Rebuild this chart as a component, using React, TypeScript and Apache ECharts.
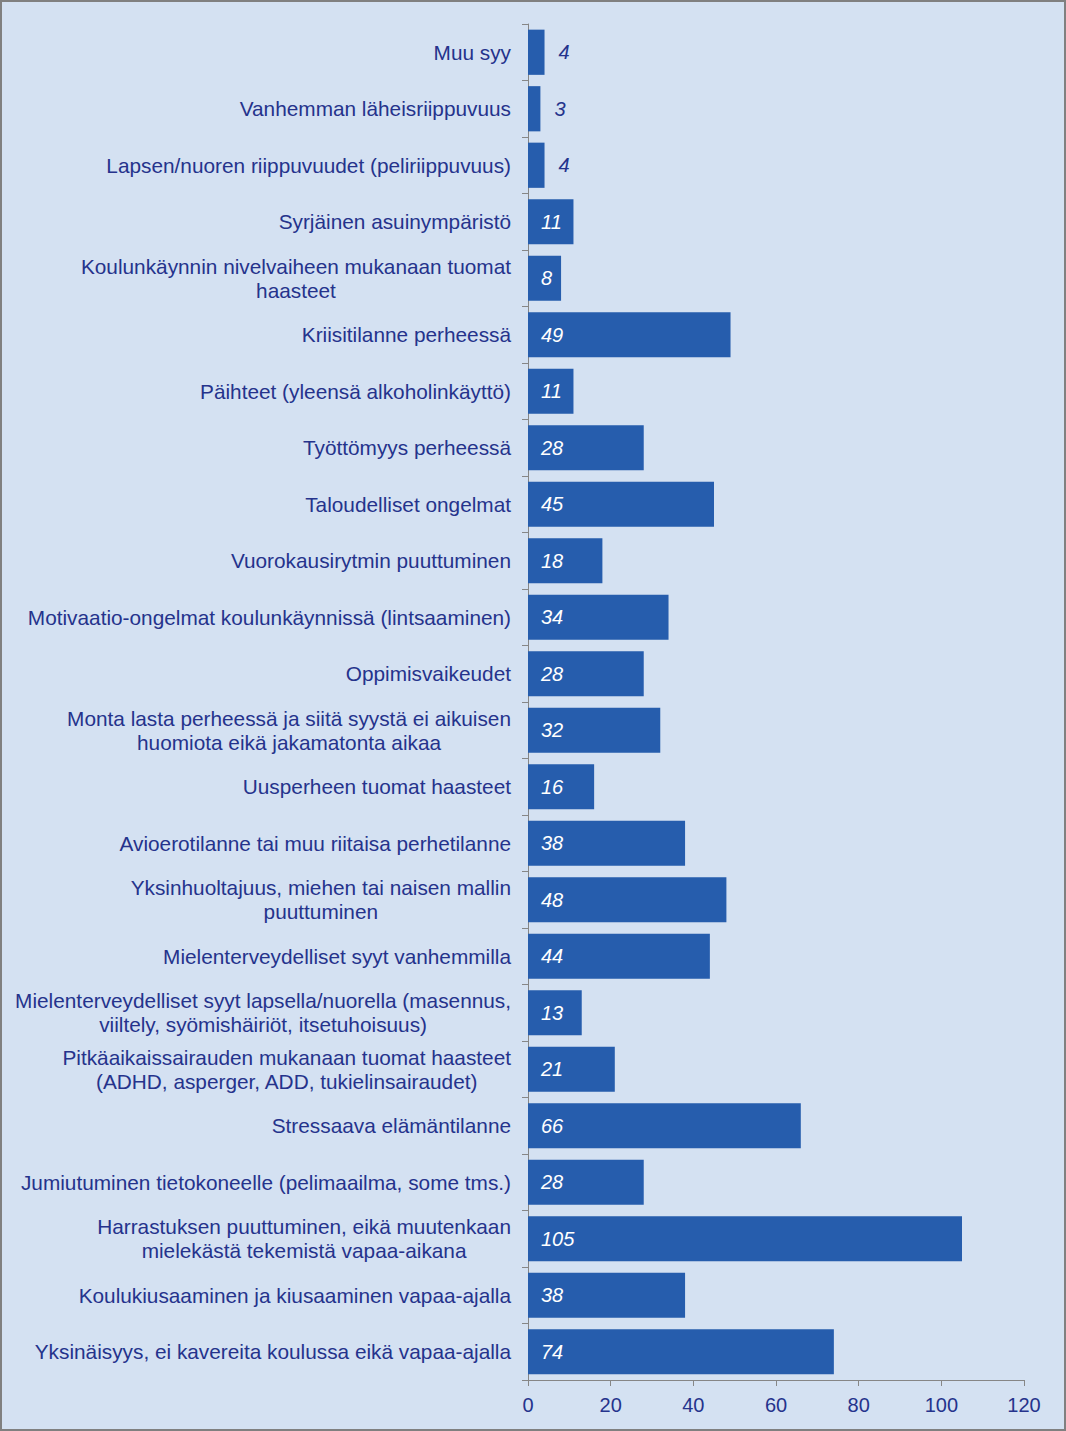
import React, { useEffect, useRef } from "react";
import * as echarts from "echarts";

const categories: string[] = [
  "Muu syy",
  "Vanhemman läheisriippuvuus",
  "Lapsen/nuoren riippuvuudet (peliriippuvuus)",
  "Syrjäinen asuinympäristö",
  "Koulunkäynnin nivelvaiheen mukanaan tuomat\nhaasteet",
  "Kriisitilanne perheessä",
  "Päihteet (yleensä alkoholinkäyttö)",
  "Työttömyys perheessä",
  "Taloudelliset ongelmat",
  "Vuorokausirytmin puuttuminen",
  "Motivaatio-ongelmat koulunkäynnissä (lintsaaminen)",
  "Oppimisvaikeudet",
  "Monta lasta perheessä ja siitä syystä ei aikuisen\nhuomiota eikä jakamatonta aikaa",
  "Uusperheen tuomat haasteet",
  "Avioerotilanne tai muu riitaisa perhetilanne",
  "Yksinhuoltajuus, miehen tai naisen mallin\npuuttuminen",
  "Mielenterveydelliset syyt vanhemmilla",
  "Mielenterveydelliset syyt lapsella/nuorella (masennus,\nviiltely, syömishäiriöt, itsetuhoisuus)",
  "Pitkäaikaissairauden mukanaan tuomat haasteet\n(ADHD, asperger, ADD, tukielinsairaudet)",
  "Stressaava elämäntilanne",
  "Jumiutuminen tietokoneelle (pelimaailma, some tms.)",
  "Harrastuksen puuttuminen, eikä muutenkaan\nmielekästä tekemistä vapaa-aikana",
  "Koulukiusaaminen ja kiusaaminen vapaa-ajalla",
  "Yksinäisyys, ei kavereita koulussa eikä vapaa-ajalla",
];

const values: number[] = [4, 3, 4, 11, 8, 49, 11, 28, 45, 18, 34, 28, 32, 16, 38, 48, 44, 13, 21, 66, 28, 105, 38, 74];

const textColor = "#25338C";
const barColor = "#265DAD";

export default function App() {
  const ref = useRef<HTMLDivElement>(null);
  useEffect(() => {
    document.body.style.margin = "0";
    const chart = echarts.init(ref.current!, undefined, { renderer: "svg" });
    const font = "'Liberation Sans', Arial, sans-serif";
    chart.setOption({
      animation: false,
      backgroundColor: "#D4E1F2",
      textStyle: { fontFamily: font },
      graphic: [
        {
          type: "rect",
          shape: { x: 1, y: 1, width: 1064, height: 1429 },
          style: { fill: "none", stroke: "#808080", lineWidth: 2 },
          silent: true,
        },
      ],
      grid: { left: 528, right: 42, top: 24, bottom: 51, containLabel: false },
      xAxis: {
        type: "value",
        min: 0,
        max: 120,
        interval: 20,
        axisLine: { show: true, lineStyle: { color: "#868686", width: 1 } },
        axisTick: { show: true, length: 6, lineStyle: { color: "#868686" } },
        splitLine: { show: false },
        axisLabel: { color: textColor, fontSize: 20, margin: 15, fontFamily: font },
      },
      yAxis: {
        type: "category",
        data: categories,
        inverse: true,
        axisLine: { show: true, lineStyle: { color: "#868686", width: 1 } },
        axisTick: { show: true, length: 6, lineStyle: { color: "#868686" } },
        axisLabel: {
          color: textColor,
          fontSize: 20.8,
          margin: 17,
          lineHeight: 24,
          align: "right",
          fontFamily: font,
          formatter: (v: string) =>
            v
              .split("\n")
              .map((s) => "{c|" + s + "}")
              .join("\n"),
          rich: {
            c: {
              align: "center",
              color: textColor,
              fontSize: 20.8,
              lineHeight: 24,
              fontFamily: font,
            },
          },
        },
      },
      series: [
        {
          type: "bar",
          barCategoryGap: "20%",
          itemStyle: { color: barColor },
          data: values.map((v) => ({
            value: v,
            label:
              v < 5
                ? { position: "right", distance: 14, color: textColor }
                : { position: "insideLeft", distance: 13, color: "#FFFFFF" },
          })),
          label: {
            show: true,
            fontSize: 20,
            fontStyle: "italic",
            fontFamily: font,
          },
        },
      ],
    });
    return () => chart.dispose();
  }, []);
  return <div ref={ref} style={{ width: 1066, height: 1431 }} />;
}
